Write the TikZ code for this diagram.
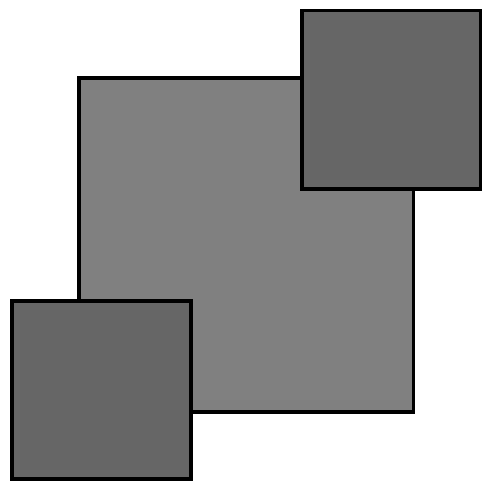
\documentclass[tikz,border=0pt]{standalone}
\definecolor{bigsquare}{HTML}{808080}
\definecolor{smallsquare}{HTML}{666666}

\begin{document}
\begin{tikzpicture}[
  x=0.5pt,
  y=-0.5pt,
  line join=miter,
  outline/.style={draw=black,line width=1.75pt},
  bigface/.style={outline,fill=bigsquare},
  smallface/.style={outline,fill=smallsquare}
]
  % Canvas in pixel units, origin at the top-left corner.
  \useasboundingbox (0,0) rectangle (491,497);

  % Large square sits underneath.
  \draw[bigface] (79,78) rectangle (413.5,412);

  % The two smaller squares overlap its opposite corners.
  \draw[smallface] (302,10.5) rectangle (480.5,189);
  \draw[smallface] (12,301) rectangle (191,479);
\end{tikzpicture}
\end{document}
